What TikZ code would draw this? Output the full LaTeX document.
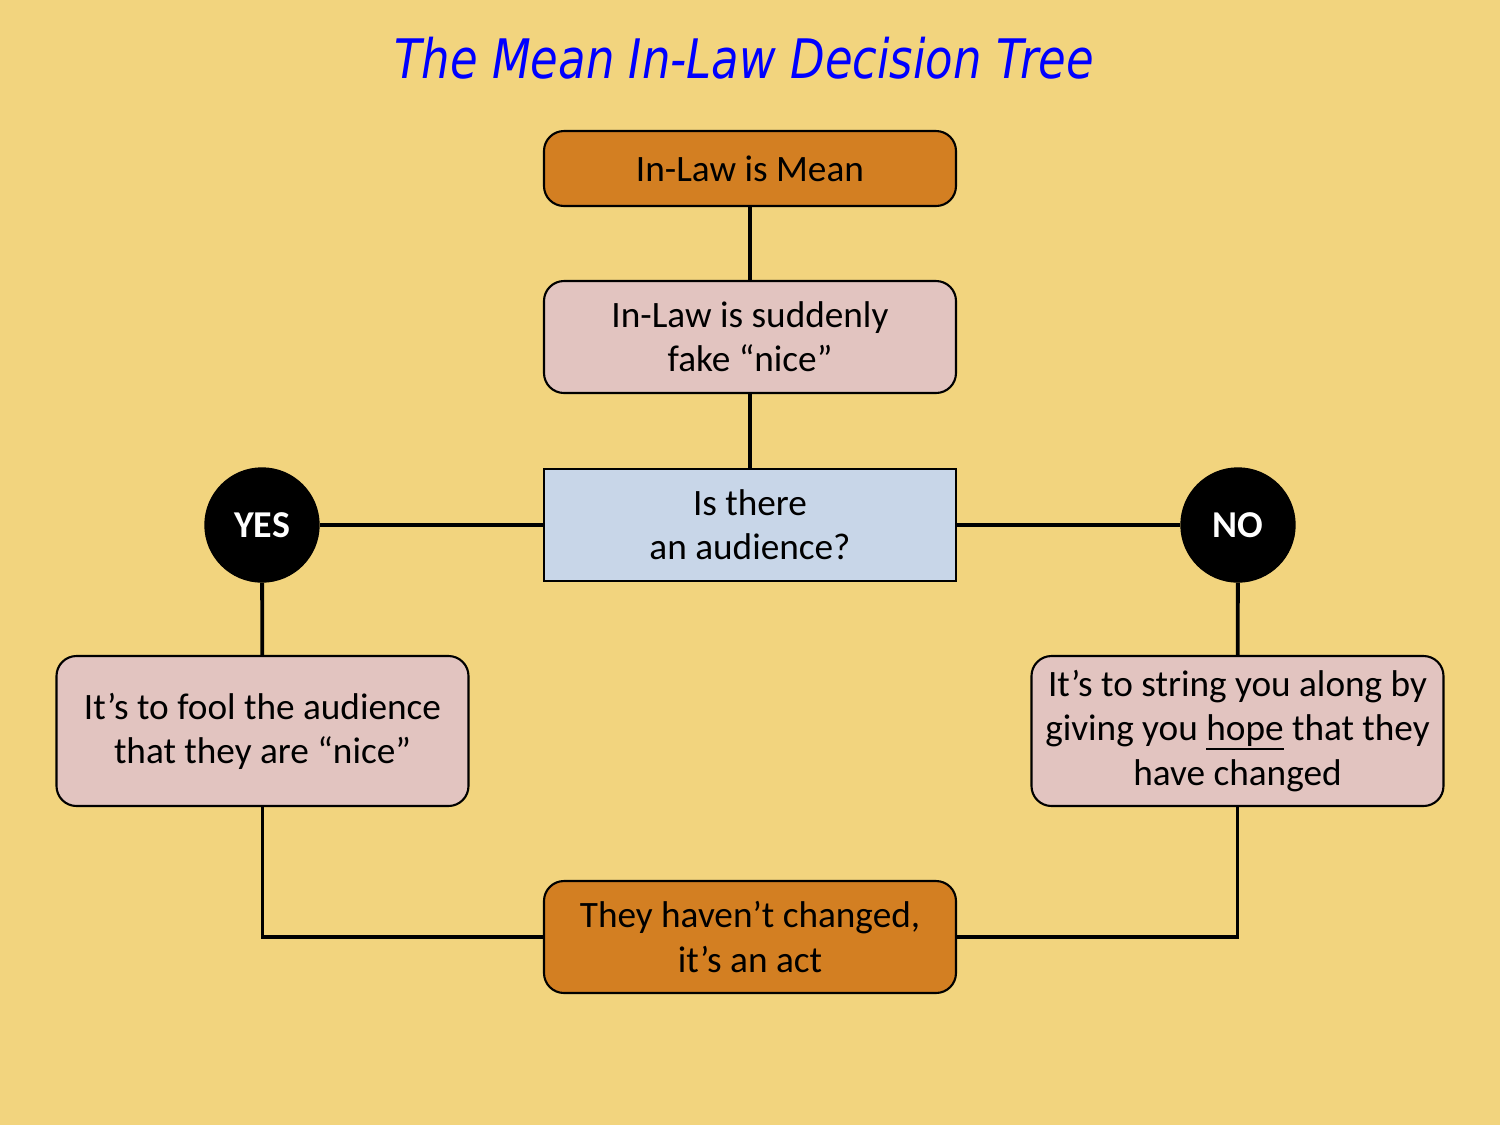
\documentclass[tikz,border=0pt]{standalone}
\usepackage{fontspec}
\setmainfont{Carlito}
\newfontfamily\titlefont{DejaVu Sans}
\usepackage{tikz}

\definecolor{fondo}{HTML}{F2D47E}
\definecolor{naranja}{HTML}{D37F22}
\definecolor{rosa}{HTML}{E2C4C0}
\definecolor{celeste}{HTML}{C8D6E8}

\newcommand\subrayar[1]{\setbox0\hbox{#1}\rlap{\rule[-2.6pt]{\wd0}{0.6pt}}#1}

\tikzset{
	caja/.style={draw,line width=0.6pt,rounded corners=0.2cm,minimum width=4.12cm,inner sep=0pt,align=center,font=\fontsize{10.6}{12.6}\selectfont},
	circulo/.style={draw,circle,fill=black,minimum size=1.14cm,inner sep=0pt,text=white,font=\fontsize{10.8}{12.6}\selectfont\bfseries},
	arco/.style={line width=1.1pt}
}

\begin{document}
\begin{tikzpicture}
		\useasboundingbox (0,0) rectangle (15,-11.25);
		\fill[fondo] (0,0) rectangle (15,-11.25);

		%Titulo
		\node [text=blue,font=\titlefont\itshape\fontsize{15.5}{18}\selectfont] (titulo) at (7.44,-0.58) {\scalebox{0.825}[1]{The Mean In-Law Decision Tree}};

		%Nodos
		\node [caja,fill=naranja,minimum height=0.75cm] (nodoMean) at (7.50,-1.685) {In-Law is Mean};
		\node [caja,fill=rosa,minimum height=1.12cm] (nodoFake) at (7.50,-3.37) {In-Law is suddenly\\fake “nice”};
		\node [caja,fill=celeste,minimum height=1.12cm,rounded corners=0pt] (nodoAudience) at (7.50,-5.25) {Is there\\an audience?};
		\node [circulo] (nodoYes) at (2.62,-5.25) {YES};
		\node [circulo] (nodoNo) at (12.38,-5.25) {NO};
		\node [caja,fill=rosa,minimum height=1.5cm] (nodoFool) at (2.625,-7.31) {It’s to fool the audience\\that they are “nice”};
		\node [caja,fill=rosa,minimum height=1.5cm] (nodoHope) at (12.375,-7.31) {It’s to string you along by\\giving you \subrayar{hope} that they\\have changed};
		\node [caja,fill=naranja,minimum height=1.12cm] (nodoAct) at (7.50,-9.37) {They haven’t changed,\\it’s an act};

		%Arcos
		\draw[arco] (nodoMean)--(nodoFake);
		\draw[arco] (nodoFake)--(nodoAudience);
		\draw[arco] (nodoAudience)--(nodoYes);
		\draw[arco] (nodoAudience)--(nodoNo);
		\draw[arco] (nodoYes)--(nodoFool);
		\draw[arco] (nodoNo)--(nodoHope);
		\draw[arco] (nodoFool.south) |- (nodoAct.west);
		\draw[arco] (nodoHope.south) |- (nodoAct.east);
\end{tikzpicture}
\end{document}
